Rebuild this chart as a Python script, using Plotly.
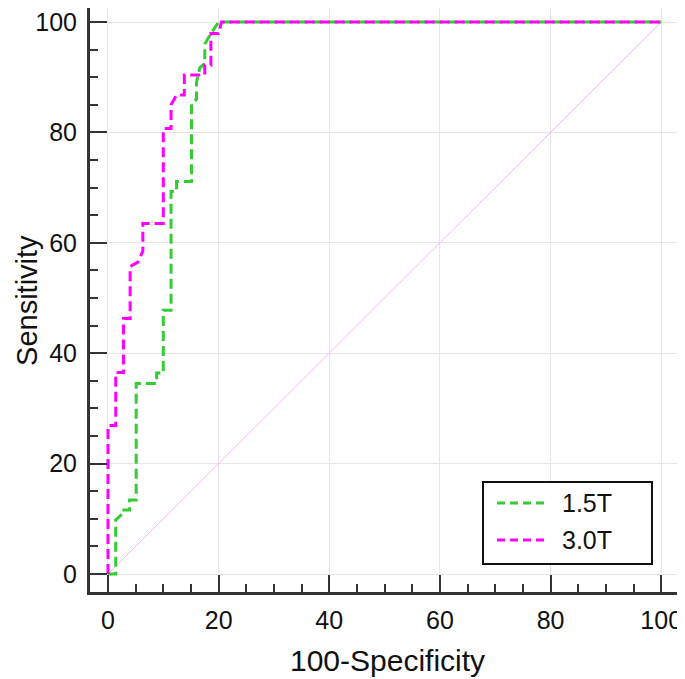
import plotly.graph_objects as go

# 1.5T ROC curve (100-Specificity, Sensitivity)
fpr_15 = [0, 1.4, 1.4, 2.5, 2.5, 3.9, 3.9, 5.1, 5.1, 8.8, 8.8, 10.0, 10.0, 11.4, 11.4,
          12.4, 12.4, 15.1, 15.1, 16.0, 16.0, 16.6, 17.5, 17.5, 18.6, 20.0, 100]
tpr_15 = [0, 0, 9.8, 10.8, 11.6, 11.6, 13.4, 13.4, 34.5, 34.5, 36.4, 36.4, 47.8, 47.8, 69.3,
          69.3, 71.1, 71.1, 85.3, 86.0, 89.1, 91.7, 92.5, 96.0, 97.9, 100, 100]

# 3.0T ROC curve
fpr_30 = [0, 0, 1.4, 1.4, 2.8, 2.8, 4.0, 4.0, 5.4, 6.3, 6.3, 10.0, 10.0, 11.4, 11.4,
          12.4, 13.8, 13.8, 17.5, 17.5, 18.6, 18.6, 20.0, 20.5, 100]
tpr_30 = [0, 26.9, 26.9, 36.5, 36.5, 46.3, 46.3, 55.7, 56.5, 58.5, 63.5, 63.5, 80.7, 80.7, 85.0,
          86.8, 86.8, 90.4, 90.4, 92.2, 92.2, 97.9, 97.9, 100, 100]

# reference diagonal
diag_x = [0, 100]
diag_y = [0, 100]

series_names = ["1.5T", "3.0T"]
series_colors = ["#33cc33", "#ff00ff"]
tick_vals = [0, 20, 40, 60, 80, 100]

FONT = "Liberation Sans, Arial, sans-serif"
AX = "#333333"
DASH = "10px,5px"

fig = go.Figure()
fig.add_trace(go.Scatter(x=diag_x, y=diag_y, mode="lines",
                         line=dict(color="#f5b5f5", width=1), showlegend=False,
                         hoverinfo="skip"))
fig.add_trace(go.Scatter(x=fpr_15, y=tpr_15, mode="lines", name=series_names[0],
                         line=dict(color=series_colors[0], width=3, dash=DASH),
                         showlegend=False))
fig.add_trace(go.Scatter(x=fpr_30, y=tpr_30, mode="lines", name=series_names[1],
                         line=dict(color=series_colors[1], width=3, dash=DASH),
                         showlegend=False))

axis_common = dict(
    showline=True, linecolor=AX, linewidth=3, mirror=False,
    ticks="inside", ticklen=17, tickwidth=2, tickcolor=AX,
    tickvals=tick_vals, showgrid=True, gridcolor="#e6e6e6", gridwidth=1,
    zeroline=False, tickfont=dict(family=FONT, size=25, color="#111111"),
    minor=dict(ticks="inside", ticklen=8, tickwidth=1.5, tickcolor=AX, dtick=5,
               showgrid=False),
    automargin=False, ticklabeloverflow="allow",
)

# legend box drawn in paper coordinates (framed legend as in the reference)
leg_x0, leg_x1, leg_y0, leg_y1 = 0.6605, 0.9445, 0.0479, 0.1884
leg_line_x0, leg_line_x1, leg_text_x = 0.684, 0.765, 0.790
leg_rows = [0.1524, 0.0890]

shapes = [dict(type="rect", xref="paper", yref="paper", x0=leg_x0, x1=leg_x1,
               y0=leg_y0, y1=leg_y1, line=dict(color="#111111", width=2),
               fillcolor="white", layer="above")]
annotations = []
for name, col, yy in zip(series_names, series_colors, leg_rows):
    shapes.append(dict(type="line", xref="paper", yref="paper", x0=leg_line_x0,
                       x1=leg_line_x1, y0=yy, y1=yy, layer="above",
                       line=dict(color=col, width=3, dash="8px,5px")))
    annotations.append(dict(xref="paper", yref="paper", x=leg_text_x, y=yy,
                            xanchor="left", yanchor="middle", text=name,
                            showarrow=False, font=dict(family=FONT, size=25,
                                                       color="#111111")))

# y-axis title placed as rotated text left of the tick labels
annotations.append(dict(xref="paper", yref="paper", x=-0.106, y=0.5,
                        xanchor="center", yanchor="middle", textangle=-90,
                        text="Sensitivity", showarrow=False,
                        font=dict(family=FONT, size=29, color="#111111")))

fig.update_layout(
    width=677, height=671,
    margin=dict(l=82, r=0, t=0, b=87),
    plot_bgcolor="white", paper_bgcolor="white",
    font=dict(family=FONT, color="#111111"),
    xaxis=dict(range=[-3.25, 104.3], title=dict(text="100-Specificity",
               font=dict(family=FONT, size=30), standoff=17),
               ticklabelstandoff=4, **axis_common),
    yaxis=dict(range=[-3.26, 102.54], ticklabelstandoff=5, **axis_common),
    shapes=shapes,
    annotations=annotations,
    showlegend=False,
)

fig.write_html("out.html")
